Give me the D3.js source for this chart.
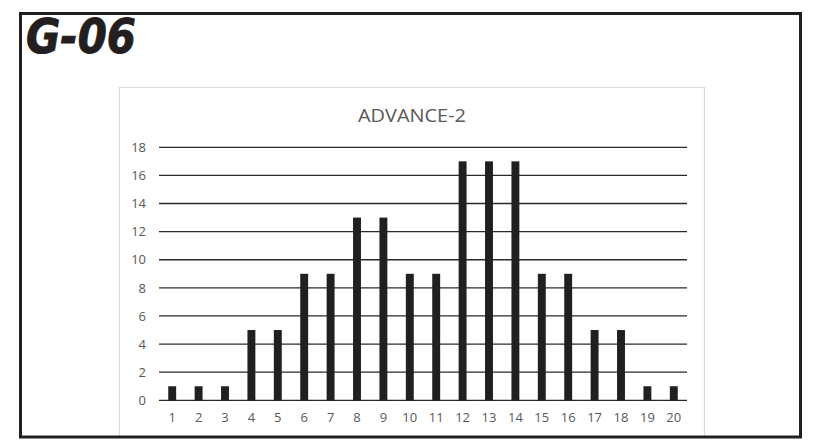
<!DOCTYPE html>
<html><head><meta charset="utf-8">
<script src="https://cdn.jsdelivr.net/npm/d3@7"></script>
<style>html,body{margin:0;padding:0;background:#fff;}svg{display:block;}
.tk text{font-family:"Open Sans",sans-serif;font-size:13px;fill:#595959;}</style>
</head><body>
<script>
const categories = ["1","2","3","4","5","6","7","8","9","10","11","12","13","14","15","16","17","18","19","20"];
const values = [1,1,1,5,5,9,9,13,13,9,9,17,17,17,9,9,5,5,1,1];
const yTicks = [0,2,4,6,8,10,12,14,16,18];
const chartTitle = "ADVANCE-2";
const pageTitle = "G-06";

const W = 815, H = 447;
const svg = d3.select("body").append("svg").attr("width", W).attr("height", H);

// inner chart box (light gray)
svg.append("path")
  .attr("d", "M119.5,437 V87.5 H704.5 V437")
  .attr("fill", "none").attr("stroke", "#d9d9d9").attr("stroke-width", 1.2);

const x = d3.scaleBand().domain(categories).range([159, 687]).paddingInner(0.7).paddingOuter(0.35);
const y = d3.scaleLinear().domain([0, 18]).range([400.3, 147.3]);

// gridlines
svg.append("g").selectAll("line").data(yTicks).join("line")
  .attr("x1", 159).attr("x2", 687)
  .attr("y1", d => y(d)).attr("y2", d => y(d))
  .attr("stroke", "#2a2a2a").attr("stroke-width", 1.3);

// y axis labels
const yAxis = d3.axisLeft(y).tickValues(yTicks).tickSize(0).tickPadding(0);
const gy = svg.append("g").attr("class", "tk").attr("transform", "translate(146,0)").call(yAxis);
gy.select(".domain").remove();
gy.attr("font-size", null).attr("font-family", null);

// bars
svg.append("g").selectAll("rect").data(values).join("rect")
  .attr("x", (d, i) => x(categories[i]))
  .attr("width", x.bandwidth())
  .attr("y", d => y(d))
  .attr("height", d => y(0) - y(d))
  .attr("fill", "#221f1f");

// x axis labels
const xAxis = d3.axisBottom(x).tickSize(0).tickPadding(0);
const gx = svg.append("g").attr("class", "tk").attr("transform", "translate(0,413)").call(xAxis);
gx.select(".domain").remove();
gx.attr("font-size", null).attr("font-family", null);

// chart title
svg.append("text").attr("x", 412).attr("y", 122).attr("text-anchor", "middle")
  .attr("font-family", "Open Sans").attr("font-size", 19).attr("fill", "#595959")
  .attr("textLength", 108).attr("lengthAdjust", "spacingAndGlyphs")
  .text(chartTitle);

// outer border
svg.append("rect").attr("x", 20.5).attr("y", 13.5).attr("width", 780).attr("height", 423.5)
  .attr("fill", "none").attr("stroke", "#231f20").attr("stroke-width", 3);

// page title
svg.append("text").attr("x", 26).attr("y", 53)
  .attr("font-family", "DejaVu Sans").attr("font-weight", "bold").attr("font-style", "italic")
  .attr("font-size", 48).attr("fill", "#231f20")
  .attr("stroke", "#231f20").attr("stroke-width", 1)
  .attr("textLength", 110).attr("lengthAdjust", "spacingAndGlyphs")
  .text(pageTitle);
</script>
</body></html>
